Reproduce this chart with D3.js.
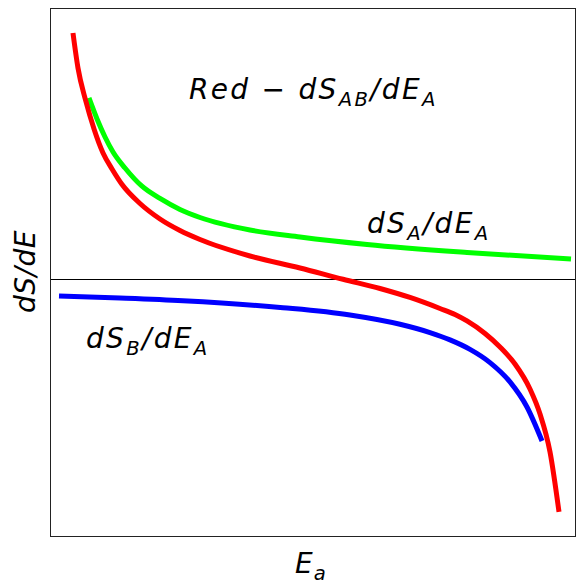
<!DOCTYPE html>
<html>
<head>
<meta charset="utf-8">
<script src="https://cdn.jsdelivr.net/npm/d3@7"></script>
<style>
  body { margin: 0; background: #fff; }
  svg text { font-family: "DejaVu Sans", sans-serif; font-style: italic; fill: #000; }
</style>
</head>
<body>
<div id="chart"></div>
<script>
// E_a as a fraction of the axis, dS/dE in arbitrary units (0 = the horizontal line)
var redX   = [0.0437, 0.0532, 0.0675, 0.0837, 0.1008, 0.1179, 0.1363, 0.1711, 0.2091, 0.2471, 0.2852, 0.3802, 0.4753, 0.5570,
              0.6274, 0.6844, 0.7414, 0.7700, 0.7928, 0.8270, 0.8555, 0.8840, 0.9125, 0.9316, 0.9506, 0.9677];
var redY   = [0.9078, 0.7788, 0.6609, 0.5540, 0.4655, 0.4066, 0.3513, 0.2794, 0.2223, 0.1799, 0.1467, 0.0859, 0.0417, 0.0000,
              -0.0339, -0.0671, -0.1076, -0.1297, -0.1537, -0.1998, -0.2495, -0.3122, -0.4043, -0.4965, -0.6366, -0.8577];
var greenX = [0.0741, 0.0894, 0.1046, 0.1198, 0.1426, 0.1743, 0.2091, 0.2471, 0.2852, 0.3802, 0.4753, 0.6027, 0.7928, 0.9905];
var greenY = [0.6683, 0.5909, 0.5245, 0.4692, 0.4102, 0.3439, 0.2978, 0.2573, 0.2278, 0.1817, 0.1559, 0.1283, 0.0988, 0.0748];
var blueX  = [0.0171, 0.1331, 0.2529, 0.4430, 0.5703, 0.6654, 0.7224, 0.7605, 0.7985, 0.8365, 0.8745, 0.9068, 0.9354];
var blueY  = [-0.0616, -0.0693, -0.0792, -0.1047, -0.1316, -0.1659, -0.1965, -0.2234, -0.2584, -0.3070, -0.3782, -0.4707, -0.5960];

var W = 577, H = 583;
var margin = { top: 8, right: 1, bottom: 46, left: 50 },
    width = W - margin.left - margin.right,
    height = H - margin.top - margin.bottom;

var x = d3.scaleLinear().domain([0, 1]).range([0, width]);
var y = d3.scaleLinear().domain([-0.95, 1.0]).range([height, 0]);

var svg = d3.select("#chart").append("svg")
    .attr("width", W)
    .attr("height", H);
var g = svg.append("g")
    .attr("transform", "translate(" + margin.left + "," + margin.top + ")");

function zip(xs, ys) { return xs.map(function (d, i) { return [d, ys[i]]; }); }

var line = d3.line()
    .x(function (d) { return x(d[0]); })
    .y(function (d) { return y(d[1]); })
    .curve(d3.curveMonotoneX);

// zero line
g.append("line")
    .attr("x1", 0).attr("x2", width)
    .attr("y1", Math.round(y(0)) + 0.5).attr("y2", Math.round(y(0)) + 0.5)
    .attr("stroke", "#000").attr("stroke-width", 1);

var series = [
    { xs: greenX, ys: greenY, color: "#00ff00" },
    { xs: blueX, ys: blueY, color: "#0000ff" },
    { xs: redX, ys: redY, color: "#ff0000" }
];
g.selectAll("path.curve").data(series).enter().append("path")
    .attr("class", "curve")
    .attr("d", function (s) { return line(zip(s.xs, s.ys)); })
    .attr("fill", "none")
    .attr("stroke", function (s) { return s.color; })
    .attr("stroke-width", 5);

// frame
g.append("rect")
    .attr("x", 0.5).attr("y", 0.5)
    .attr("width", width - 1).attr("height", height - 1)
    .attr("fill", "none").attr("stroke", "#222").attr("stroke-width", 1);

// labels with subscripts
var SIZE = 28, DROP = 6.5;
function label(parent, parts, spacing) {
    var t = parent.append("text")
        .style("font-size", SIZE + "px")
        .style("letter-spacing", spacing + "px");
    var low = false;
    parts.forEach(function (p) {
        if (typeof p === "string") {
            t.append("tspan").attr("dy", low ? -DROP : 0).text(p);
            low = false;
        } else {
            t.append("tspan").attr("dy", low ? 0 : DROP)
                .style("font-size", (SIZE * 0.7) + "px").text(p.sub);
            low = true;
        }
    });
    return t;
}

label(svg, ["Red \u2212 dS", { sub: "AB" }, "/dE", { sub: "A" }], 2.3)
    .attr("x", 189).attr("y", 99);
label(svg, ["dS", { sub: "A" }, "/dE", { sub: "A" }], 2.3)
    .attr("x", 367).attr("y", 233);
label(svg, ["dS", { sub: "B" }, "/dE", { sub: "A" }], 2.3)
    .attr("x", 86).attr("y", 348);

label(svg, ["E", { sub: "a" }], 1)
    .attr("x", 295).attr("y", 573);

svg.append("text")
    .attr("transform", "translate(35," + (margin.top + height / 2 - 1) + ") rotate(-90)")
    .attr("text-anchor", "middle")
    .style("font-size", SIZE + "px")
    .style("letter-spacing", "0.5px")
    .text("dS/dE");
</script>
</body>
</html>
